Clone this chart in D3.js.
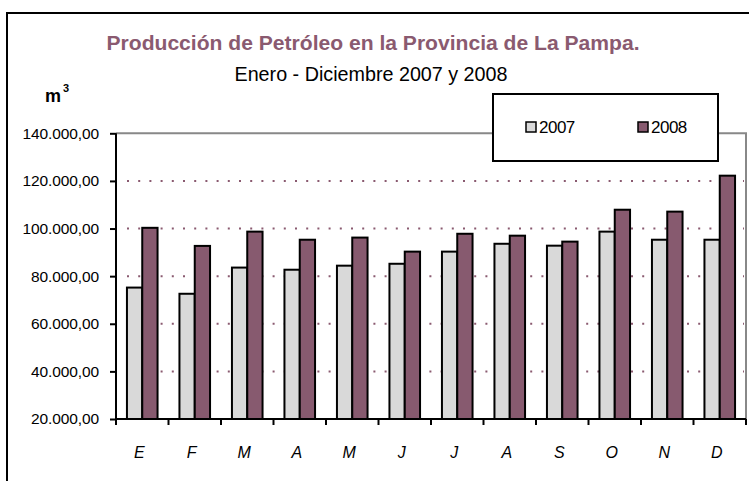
<!DOCTYPE html>
<html>
<head>
<meta charset="utf-8">
<script src="https://cdn.jsdelivr.net/npm/d3@7"></script>
<style>
  body { margin: 0; background: #fff; }
  text { font-family: "Liberation Sans", Arial, sans-serif; }
</style>
</head>
<body>
<div id="chart"></div>
<script>
var svgWidth = 749;
var svgHeight = 481;

// data
var months = ["E", "F", "M", "A", "M", "J", "J", "A", "S", "O", "N", "D"];
var years = ["2007", "2008"];
var v2007 = [75200, 72600, 83600, 82700, 84400, 85200, 90300, 93600, 92800, 98700, 95300, 95300];
var v2008 = [100300, 92700, 98700, 95300, 96200, 90300, 97800, 97000, 94500, 107900, 107100, 122200];
var yTicks = [20000, 40000, 60000, 80000, 100000, 120000, 140000];

var colors = { "2007": "#d9d9d9", "2008": "#875a6f" };
var mauve = "#8a5a70";

var plot = { left: 116, right: 746, top: 133.3, bottom: 419 };

var svg = d3.select("#chart")
    .append("svg")
    .attr("width", svgWidth)
    .attr("height", svgHeight);

// outer frame (runs off the right and bottom)
svg.append("rect")
    .attr("x", 7).attr("y", 13)
    .attr("width", 800).attr("height", 600)
    .attr("fill", "none")
    .attr("stroke", "#000")
    .attr("stroke-width", 2);

// scales
var xScale = d3.scaleBand()
    .domain(d3.range(months.length))
    .range([plot.left, plot.right]);

var yScale = d3.scaleLinear()
    .domain([20000, 140000])
    .range([plot.bottom, plot.top]);

var barW = 15.3;

// plot area border (top + right in gray)
svg.append("path")
    .attr("d", `M${plot.left},${plot.top}H${plot.right}V${plot.bottom}`)
    .attr("fill", "none")
    .attr("stroke", "#888")
    .attr("stroke-width", 2);

// dotted gridlines
svg.append("g")
    .selectAll("line")
    .data(yTicks.filter(d => d > 20000 && d < 140000))
    .enter()
    .append("line")
    .attr("x1", plot.left + 11)
    .attr("x2", plot.right - 2)
    .attr("y1", d => yScale(d))
    .attr("y2", d => yScale(d))
    .attr("stroke", mauve)
    .attr("stroke-width", 2)
    .attr("stroke-dasharray", "2,9.2");

// bars
var series = [v2007, v2008];
series.forEach(function (vals, si) {
    svg.append("g")
        .selectAll("rect")
        .data(vals)
        .enter()
        .append("rect")
        .attr("x", (d, i) => xScale(i) + xScale.bandwidth() / 2 - barW + si * barW)
        .attr("y", d => yScale(d))
        .attr("width", barW)
        .attr("height", d => plot.bottom - yScale(d))
        .attr("fill", colors[years[si]])
        .attr("stroke", "#000")
        .attr("stroke-width", 2);
});

// y axis
var leftAxis = d3.axisLeft(yScale)
    .tickValues(yTicks)
    .tickSize(6)
    .tickPadding(11)
    .tickFormat(d => d3.format(",.2f")(d).replace(/,/g, "#").replace(".", ",").replace(/#/g, "."));

var yAxisG = svg.append("g")
    .attr("transform", `translate(${plot.left},0)`)
    .call(leftAxis);
yAxisG.select(".domain").attr("stroke", "#000").attr("stroke-width", 2)
    .attr("d", `M0,${plot.top}V${plot.bottom}`);
yAxisG.selectAll(".tick line").attr("stroke", "#000").attr("stroke-width", 2);
yAxisG.selectAll(".tick text")
    .attr("fill", "#000")
    .style("font-size", "15.5px")
    .style("letter-spacing", "-0.1px")
    .style("font-family", "'Liberation Sans', Arial, sans-serif");

// x axis
var bottomAxis = d3.axisBottom(xScale)
    .tickSize(0)
    .tickPadding(28)
    .tickFormat(i => months[i]);

var xAxisG = svg.append("g")
    .attr("transform", `translate(0,${plot.bottom})`)
    .call(bottomAxis);
xAxisG.select(".domain").attr("stroke", "#000").attr("stroke-width", 2)
    .attr("d", `M${plot.left},0H${plot.right}`);
xAxisG.selectAll(".tick text")
    .attr("fill", "#000")
    .attr("dx", -3)
    .style("font-size", "16px")
    .style("font-style", "italic")
    .style("font-family", "'Liberation Sans', Arial, sans-serif");

// x tick marks at band edges
xAxisG.append("g")
    .selectAll("line")
    .data(d3.range(months.length + 1))
    .enter()
    .append("line")
    .attr("x1", i => i < months.length ? xScale(i) : plot.right)
    .attr("x2", i => i < months.length ? xScale(i) : plot.right)
    .attr("y1", 0)
    .attr("y2", 6)
    .attr("stroke", "#000")
    .attr("stroke-width", 2);

// titles
svg.append("text")
    .attr("x", 373)
    .attr("y", 50)
    .attr("text-anchor", "middle")
    .attr("fill", mauve)
    .style("font-size", "21px")
    .style("font-weight", "bold")
    .attr("textLength", 533)
    .attr("lengthAdjust", "spacingAndGlyphs")
    .text("Producción de Petróleo en la Provincia de La Pampa.");

svg.append("text")
    .attr("x", 371)
    .attr("y", 81)
    .attr("text-anchor", "middle")
    .attr("fill", "#000")
    .style("font-size", "20px")
    .attr("textLength", 273)
    .attr("lengthAdjust", "spacingAndGlyphs")
    .text("Enero - Diciembre 2007 y 2008");

// unit label
var unit = svg.append("text")
    .attr("x", 45)
    .attr("y", 102)
    .attr("fill", "#000")
    .style("font-size", "18px")
    .style("font-weight", "bold");
unit.append("tspan").text("m");
unit.append("tspan")
    .attr("dy", -10)
    .attr("dx", 2)
    .style("font-size", "11px")
    .text("3");

// legend
var legend = svg.append("g");
legend.append("rect")
    .attr("x", 493).attr("y", 94)
    .attr("width", 225).attr("height", 67)
    .attr("fill", "#fff")
    .attr("stroke", "#000")
    .attr("stroke-width", 2);

var legendX = [526, 638];
years.forEach(function (yr, i) {
    legend.append("rect")
        .attr("x", legendX[i]).attr("y", 122)
        .attr("width", 10).attr("height", 10)
        .attr("fill", colors[yr])
        .attr("stroke", "#000")
        .attr("stroke-width", 1.5);
    legend.append("text")
        .attr("x", legendX[i] + 13)
        .attr("y", 132.5)
        .attr("fill", "#000")
        .style("font-size", "17px")
        .style("letter-spacing", "-0.5px")
        .text(yr);
});
</script>
</body>
</html>
